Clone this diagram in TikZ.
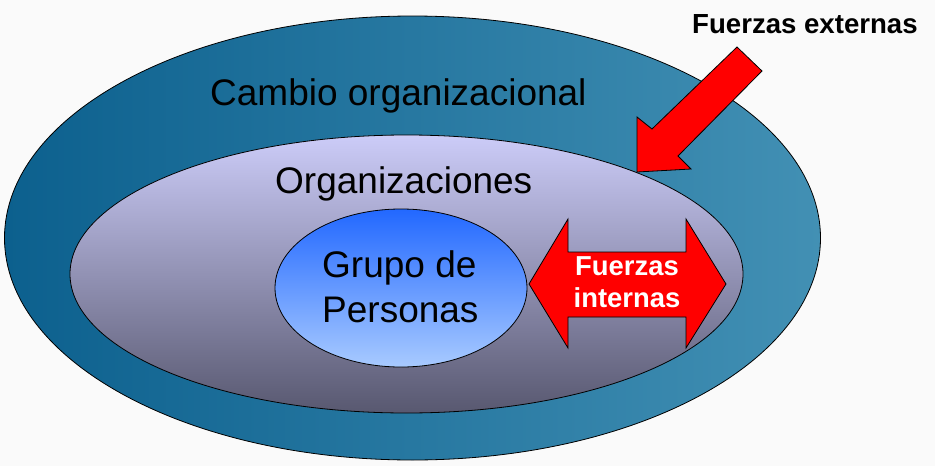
\documentclass[tikz,border=0pt]{standalone}
\usepackage{fontspec}
\setmainfont{Liberation Sans}
\usetikzlibrary{shapes.geometric}
\definecolor{outerL}{RGB}{12,96,142}
\definecolor{outerR}{RGB}{66,144,180}
\definecolor{midT}{RGB}{204,204,248}
\definecolor{midB}{RGB}{88,88,112}
\definecolor{innT}{RGB}{34,104,255}
\definecolor{innB}{RGB}{168,202,255}
\definecolor{bg}{RGB}{250,250,250}
\definecolor{arrowred}{RGB}{255,0,0}
\tikzset{
  ring/.style={ellipse, draw=black, line width=0.8pt, inner sep=0pt},
  lbl/.style={anchor=base west, inner sep=0pt, font=\fontsize{37}{44}\selectfont, text=black},
  redarrow/.style={fill=arrowred, draw=black, line width=0.8pt, line join=miter},
}
\begin{document}
\begin{tikzpicture}[x=1pt,y=-1pt]
\useasboundingbox (0,0) rectangle (935,466);
\fill[bg] (0,0) rectangle (935,466);
% ellipses
\node[ring, minimum width=816pt, minimum height=444pt, left color=outerL, right color=outerR] (outer) at (412.5,238) {};
\node[ring, minimum width=673pt, minimum height=278pt, top color=midT, bottom color=midB] (middle) at (406.5,274) {};
\node[ring, minimum width=252pt, minimum height=158pt, top color=innT, bottom color=innB] (inner) at (401,288) {};
% texts
\node[lbl] (cambio) at (210,105) {Cambio organizacional};
\node[lbl] (org) at (275,193) {Organizaciones};
\node[lbl] (grupo) at (322,277) {Grupo de};
\node[lbl] (pers) at (322,322) {Personas};
% external force arrow
\draw[redarrow] (637,172) -- (637,117) -- (652,129) -- (737,47) -- (762,71) -- (678,156) -- (691,169) -- cycle;
\node[anchor=base west, inner sep=0pt, font=\fontsize{27.6}{32}\selectfont\bfseries] (fext) at (692,33) {Fuerzas externas};
% internal double arrow
\draw[redarrow] (529,284) -- (568,219) -- (568,252) -- (686,252) -- (686,219) -- (726,284) -- (686,348) -- (686,317) -- (568,317) -- (568,348) -- cycle;
\node[anchor=base, inner sep=0pt, font=\fontsize{27.4}{32}\selectfont\bfseries, text=white] (fint1) at (627,275) {Fuerzas};
\node[anchor=base, inner sep=0pt, font=\fontsize{27.4}{32}\selectfont\bfseries, text=white] (fint2) at (627,307) {internas};
\end{tikzpicture}
\end{document}
